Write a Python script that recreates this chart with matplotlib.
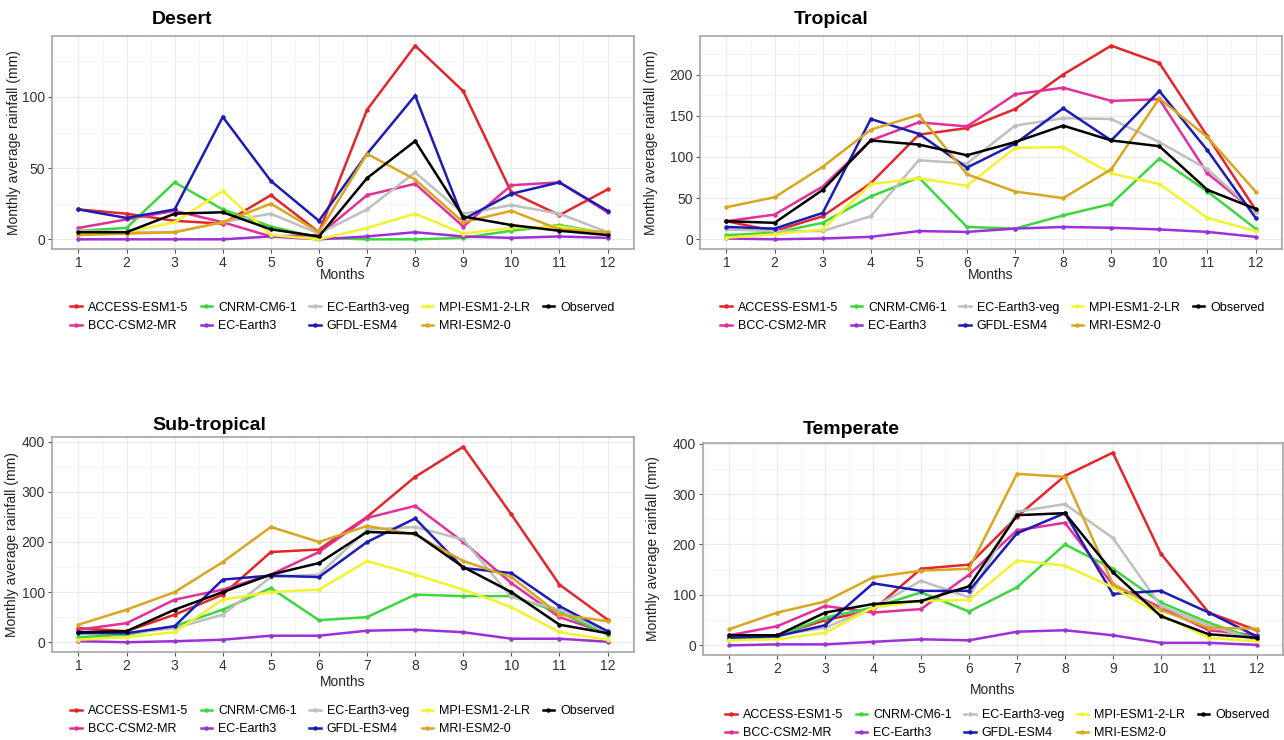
import matplotlib
matplotlib.use("Agg")
import matplotlib.pyplot as plt
from matplotlib.ticker import MultipleLocator

plt.rcParams['font.family'] = ['Liberation Sans', 'DejaVu Sans']

# ################### DATA ####################
months = [1, 2, 3, 4, 5, 6, 7, 8, 9, 10, 11, 12]

models = ["ACCESS-ESM1-5", "BCC-CSM2-MR", "CNRM-CM6-1", "EC-Earth3",
          "EC-Earth3-veg", "GFDL-ESM4", "MPI-ESM1-2-LR", "MRI-ESM2-0",
          "Observed"]

colors = ["#e3262a", "#e2309a", "#3ed63e", "#9b30d9", "#bfbfbf",
          "#1c1cb5", "#f2f230", "#daa520", "#000000"]

desert = {
    "ACCESS-ESM1-5": [21, 18, 13, 11, 31, 5, 91, 136, 104, 33, 17, 35],
    "BCC-CSM2-MR": [8, 14, 20, 12, 2, 3, 31, 39, 9, 38, 40, 19],
    "CNRM-CM6-1": [6, 8, 40, 21, 9, 1, 0, 0, 1, 6, 10, 4],
    "EC-Earth3": [0, 0, 0, 0, 2, 0, 2, 5, 2, 1, 2, 1],
    "EC-Earth3-veg": [6, 5, 5, 12, 18, 4, 21, 47, 18, 24, 18, 5],
    "GFDL-ESM4": [21, 15, 21, 86, 41, 13, 60, 101, 14, 32, 40, 20],
    "MPI-ESM1-2-LR": [4, 5, 12, 34, 3, 0, 8, 18, 4, 8, 9, 4],
    "MRI-ESM2-0": [3, 4, 5, 12, 25, 5, 60, 42, 12, 20, 7, 5],
    "Observed": [5, 5, 18, 19, 7, 2, 43, 69, 16, 10, 6, 3],
}

tropical = {
    "ACCESS-ESM1-5": [22, 10, 28, 68, 127, 135, 158, 200, 235, 214, 125, 36],
    "BCC-CSM2-MR": [22, 30, 64, 120, 142, 137, 176, 184, 168, 170, 80, 33],
    "CNRM-CM6-1": [5, 8, 20, 52, 75, 15, 13, 29, 43, 98, 58, 13],
    "EC-Earth3": [1, 0, 1, 3, 10, 9, 13, 15, 14, 12, 9, 3],
    "EC-Earth3-veg": [12, 10, 10, 28, 96, 92, 138, 147, 146, 118, 85, 33],
    "GFDL-ESM4": [15, 13, 32, 146, 128, 87, 116, 159, 120, 180, 108, 26],
    "MPI-ESM1-2-LR": [2, 6, 12, 67, 74, 65, 111, 112, 80, 67, 26, 10],
    "MRI-ESM2-0": [39, 51, 88, 133, 151, 79, 58, 50, 85, 171, 124, 58],
    "Observed": [22, 20, 60, 120, 115, 102, 118, 138, 120, 113, 60, 37],
}

subtropical = {
    "ACCESS-ESM1-5": [28, 22, 55, 95, 180, 185, 250, 330, 390, 255, 115, 45],
    "BCC-CSM2-MR": [25, 38, 85, 105, 135, 180, 248, 272, 200, 118, 50, 18],
    "CNRM-CM6-1": [10, 15, 32, 65, 108, 44, 50, 95, 92, 92, 60, 15],
    "EC-Earth3": [2, 0, 2, 5, 13, 13, 23, 25, 20, 7, 7, 1],
    "EC-Earth3-veg": [20, 18, 28, 55, 130, 135, 225, 230, 205, 90, 65, 20],
    "GFDL-ESM4": [18, 18, 32, 125, 133, 130, 200, 247, 148, 138, 72, 22],
    "MPI-ESM1-2-LR": [5, 10, 20, 85, 100, 105, 162, 135, 105, 70, 20, 5],
    "MRI-ESM2-0": [35, 65, 100, 160, 230, 200, 232, 215, 162, 130, 55, 42],
    "Observed": [20, 22, 65, 100, 135, 158, 220, 217, 150, 100, 35, 18],
}

temperate = {
    "ACCESS-ESM1-5": [18, 20, 50, 70, 152, 160, 255, 336, 382, 182, 65, 30],
    "BCC-CSM2-MR": [20, 38, 78, 65, 72, 140, 228, 243, 120, 75, 30, 20],
    "CNRM-CM6-1": [10, 18, 55, 75, 105, 67, 115, 200, 152, 85, 45, 12],
    "EC-Earth3": [0, 2, 2, 7, 12, 10, 27, 30, 20, 5, 5, 1],
    "EC-Earth3-veg": [15, 20, 35, 75, 128, 95, 265, 280, 213, 78, 40, 10],
    "GFDL-ESM4": [15, 18, 40, 123, 108, 108, 222, 262, 102, 108, 65, 18],
    "MPI-ESM1-2-LR": [10, 12, 25, 75, 88, 90, 168, 158, 115, 60, 15, 8],
    "MRI-ESM2-0": [32, 65, 87, 135, 148, 152, 340, 334, 122, 70, 35, 33],
    "Observed": [20, 20, 65, 82, 88, 117, 258, 262, 145, 58, 22, 15],
}

W, H = 1284, 740


# ################### FUNCTIONS ####################
def px_axes(fig, left, top, right, bottom):
    return fig.add_axes([left / W, 1 - bottom / H, (right - left) / W,
                         (bottom - top) / H])


def draw_panel(fig, data, box, title, title_xy, ystep, ylabel_x, xlabel_y,
               legend_xy):
    left, top, right, bottom = box
    ax = px_axes(fig, left, top, right, bottom)
    lines = []
    for name, col in zip(models, colors):
        ln, = ax.plot(months, data[name], color=col, lw=1.8, marker='o',
                      ms=2.2, solid_joinstyle='miter')
        lines.append(ln)

    ax.margins(x=0.05, y=0.05)
    ax.set_xticks(months)
    ax.xaxis.set_minor_locator(MultipleLocator(0.5))
    ax.yaxis.set_major_locator(MultipleLocator(ystep))
    ax.yaxis.set_minor_locator(MultipleLocator(ystep / 2))
    ax.grid(which='major', color='#ebebeb', lw=0.8)
    ax.grid(which='minor', color='#f4f4f4', lw=0.6)
    ax.set_axisbelow(True)
    ax.tick_params(which='major', length=3, width=0.8, color='#555555',
                   labelsize=10, labelcolor='#333333', pad=2)
    ax.tick_params(which='minor', length=0)
    for sp in ax.spines.values():
        sp.set_color('#a6a6a6')
        sp.set_linewidth(1.2)

    fig.text(title_xy[0] / W, 1 - title_xy[1] / H, title, fontsize=14,
             fontweight='bold', ha='left', va='center')
    fig.text(ylabel_x / W, 1 - (top + bottom) / 2 / H,
             "Monthly average rainfall (mm)", rotation=90, fontsize=10,
             ha='center', va='center', color='#222222')
    fig.text((left + right) / 2 / W, 1 - xlabel_y / H, "Months",
             fontsize=10, ha='center', va='center', color='#222222')

    fig.legend(lines, models, ncol=5, frameon=False, fontsize=9,
               loc='center left',
               bbox_to_anchor=(legend_xy[0] / W, 1 - legend_xy[1] / H),
               borderpad=0, handlelength=0.9, handletextpad=0.5,
               columnspacing=1.0, labelspacing=0.5, markerscale=1.0)
    return ax


# ################### MAIN ####################
fig = plt.figure(figsize=(W / 100, H / 100), dpi=100)

draw_panel(fig, desert, (52, 36, 634, 249), "Desert", (152, 20), 50,
           14, 275, (64, 317))
draw_panel(fig, tropical, (700, 36, 1282, 249), "Tropical", (794, 20), 50,
           651, 275, (714, 317))
draw_panel(fig, subtropical, (52, 437, 634, 652), "Sub-tropical", (152, 425),
           100, 12, 682, (64, 720))
draw_panel(fig, temperate, (703, 443, 1283, 655), "Temperate", (803, 430),
           100, 653, 690, (719, 724))

fig.savefig("out.png", dpi=100, facecolor='white')
